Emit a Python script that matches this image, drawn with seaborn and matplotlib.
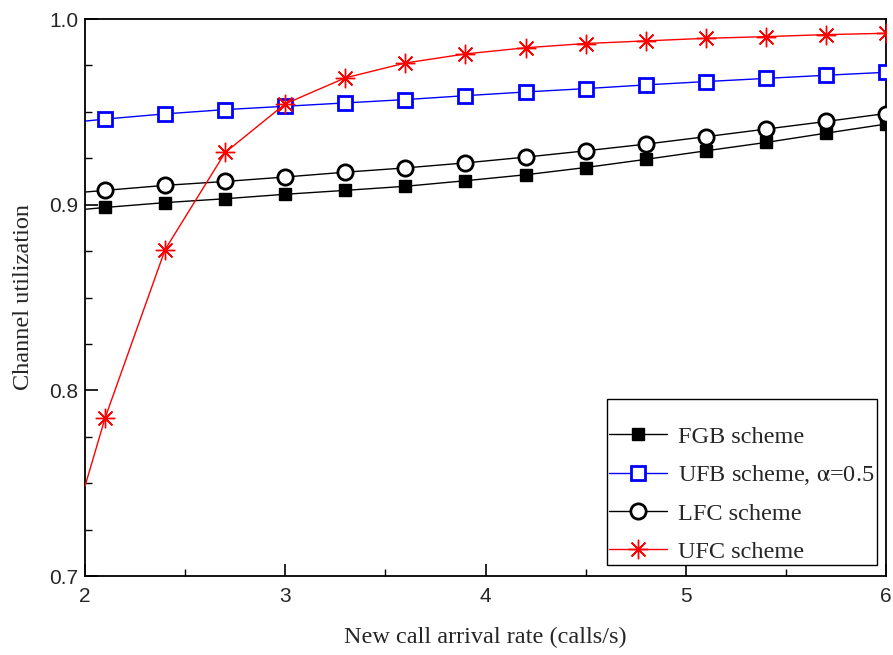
import numpy as np
import pandas as pd
import matplotlib
matplotlib.use("Agg")
import matplotlib.pyplot as plt
import seaborn as sns

x = [2.0, 2.1, 2.4, 2.7, 3.0, 3.3, 3.6, 3.9, 4.2, 4.5, 4.8, 5.1, 5.4, 5.7, 6.0]
fgb = [0.8975, 0.8985, 0.9011, 0.9032, 0.9056, 0.9077, 0.9099, 0.9129, 0.9161, 0.9200, 0.9244, 0.9290, 0.9335, 0.9385, 0.9434]
ufb = [0.9450, 0.9461, 0.9489, 0.9512, 0.9530, 0.9548, 0.9566, 0.9587, 0.9607, 0.9625, 0.9645, 0.9663, 0.9680, 0.9697, 0.9713]
lfc = [0.9068, 0.9077, 0.9104, 0.9125, 0.9149, 0.9175, 0.9198, 0.9225, 0.9256, 0.9290, 0.9326, 0.9366, 0.9407, 0.9448, 0.9491]
ufc = [0.7484, 0.7850, 0.8758, 0.9281, 0.9543, 0.9683, 0.9763, 0.9812, 0.9845, 0.9868, 0.9882, 0.9896, 0.9905, 0.9916, 0.9923]

labels = ["FGB scheme", r"UFB scheme, $\mathrm{\alpha}$=0.5", "LFC scheme", "UFC scheme"]

sns.set_theme(style="ticks")
plt.rcParams['font.family'] = ['Liberation Serif', 'DejaVu Serif']
plt.rcParams['mathtext.fontset'] = 'stix'

fig = plt.figure(figsize=(8.93, 6.55), dpi=100)
ax = fig.add_axes([85/893, 1-576/655, (886-85)/893, (576-19)/655])

styles = [
    dict(color="black", marker="s", markersize=8, markerfacecolor="black", markeredgecolor="black", markeredgewidth=1),
    dict(color="blue", marker="s", markersize=10, markerfacecolor="white", markeredgecolor="blue", markeredgewidth=2),
    dict(color="black", marker="o", markersize=11, markerfacecolor="white", markeredgecolor="black", markeredgewidth=2),
    dict(color="red", marker=(8, 2, 0), markersize=14, markerfacecolor="red", markeredgecolor="red", markeredgewidth=1),
]
series = [fgb, ufb, lfc, ufc]
for ys, lab, st in zip(series, labels, styles):
    df = pd.DataFrame({"x": x, "y": ys})
    sns.lineplot(data=df, x="x", y="y", ax=ax, label=lab, linewidth=1,
                 markevery=list(range(1, len(x))), zorder=3, **st)
for ln in ax.get_lines():
    ln.set_clip_on(True)
    ln.set_clip_path(ax.patch)

ax.set_xlim(2, 6)
ax.set_ylim(0.7, 1.0)
ax.set_xticks([2, 3, 4, 5, 6])
ax.set_xticks(np.arange(2, 6.01, 0.5), minor=True)
ax.set_yticks([0.7, 0.8, 0.9, 1.0])
ax.set_yticks(np.arange(0.7, 1.001, 0.025), minor=True)
ax.set_xticklabels(["2", "3", "4", "5", "6"], family="Liberation Sans", fontsize=15)
ax.set_yticklabels(["0.7", "0.8", "0.9", "1.0"], family="Liberation Sans", fontsize=15)
ax.tick_params(which="major", direction="in", length=9, width=1.2, color="black", pad=5)
ax.tick_params(which="minor", direction="in", length=5, width=1.0, color="black")
ax.tick_params(axis="x", pad=8)
for s in ax.spines.values():
    s.set_linewidth(1.3)
    s.set_color("black")

ax.set_xlabel("New call arrival rate (calls/s)", fontsize=17.5, labelpad=15)
ax.set_ylabel("Channel utilization", fontsize=17.5, labelpad=11)

leg = ax.legend(loc="lower right", bbox_to_anchor=(877/893, 1-565/655), bbox_transform=fig.transFigure,
                fontsize=17.5, frameon=True, fancybox=False, edgecolor="black", framealpha=1,
                title=" ", title_fontsize=7,
                handlelength=2.4, handletextpad=0.45, borderpad=0.1, labelspacing=0.64, borderaxespad=0)
leg.get_frame().set_linewidth(1.0)

fig.savefig("out.png", dpi=100)
